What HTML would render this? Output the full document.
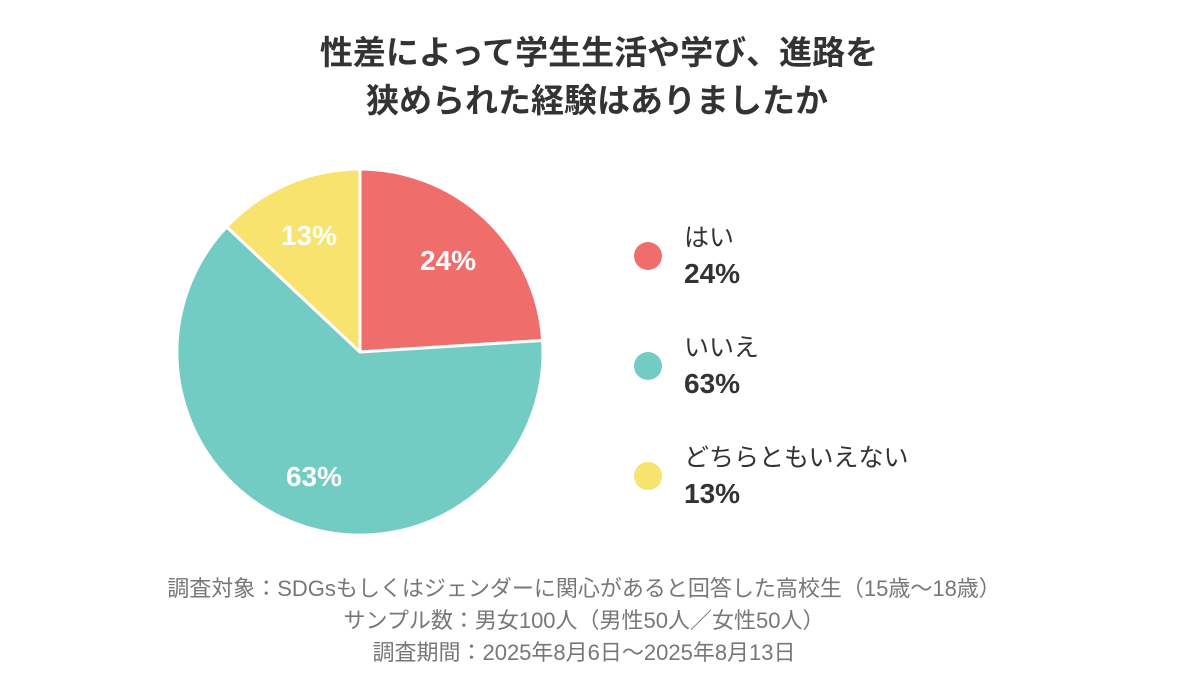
<!DOCTYPE html>
<html><head><meta charset="utf-8"><style>
body{margin:0;background:#fff;width:1200px;height:700px;overflow:hidden;font-family:"Liberation Sans","Noto Sans CJK JP",sans-serif;}
</style></head><body>
<svg width="1200" height="700" xmlns="http://www.w3.org/2000/svg" style="position:absolute;left:0;top:0">
<g font-family="'Liberation Sans','Noto Sans CJK JP',sans-serif">
<text x="599" y="64" text-anchor="middle" font-size="33" font-weight="bold" fill="#333">性差によって学生生活や学び、進路を</text>
<text x="597" y="112" text-anchor="middle" font-size="33" font-weight="bold" fill="#333">狭められた経験はありましたか</text>
<g stroke="#fff" stroke-width="3" stroke-linejoin="round">
<path d="M360,352 L360,169 A183,183 0 0 1 542.6,340.5 Z" fill="#EF6E6C"/>
<path d="M360,352 L542.6,340.5 A183,183 0 1 1 226.6,226.8 Z" fill="#72CCC3"/>
<path d="M360,352 L226.6,226.8 A183,183 0 0 1 360,169 Z" fill="#F7E36E"/>
</g>
<g font-size="28" font-weight="bold" fill="#fff" text-anchor="middle">
<text x="448" y="270">24%</text>
<text x="309" y="245">13%</text>
<text x="314" y="486">63%</text>
</g>
<circle cx="648" cy="256" r="14" fill="#EF6E6C"/>
<circle cx="648" cy="366" r="14" fill="#72CCC3"/>
<circle cx="648" cy="476" r="14" fill="#F7E36E"/>
<g fill="#333">
<text x="684" y="246" font-size="25">はい</text>
<text x="684" y="283" font-size="28" font-weight="bold">24%</text>
<text x="684" y="356" font-size="25">いいえ</text>
<text x="684" y="393" font-size="28" font-weight="bold">63%</text>
<text x="684" y="466" font-size="25">どちらともいえない</text>
<text x="684" y="503" font-size="28" font-weight="bold">13%</text>
</g>
<g fill="#777" font-size="22" text-anchor="middle">
<text x="584" y="596">調査対象：SDGsもしくはジェンダーに関心があると回答した高校生（15歳〜18歳）</text>
<text x="584" y="628">サンプル数：男女100人（男性50人／女性50人）</text>
<text x="584" y="660">調査期間：2025年8月6日〜2025年8月13日</text>
</g>
</g>
</svg>
</body></html>
